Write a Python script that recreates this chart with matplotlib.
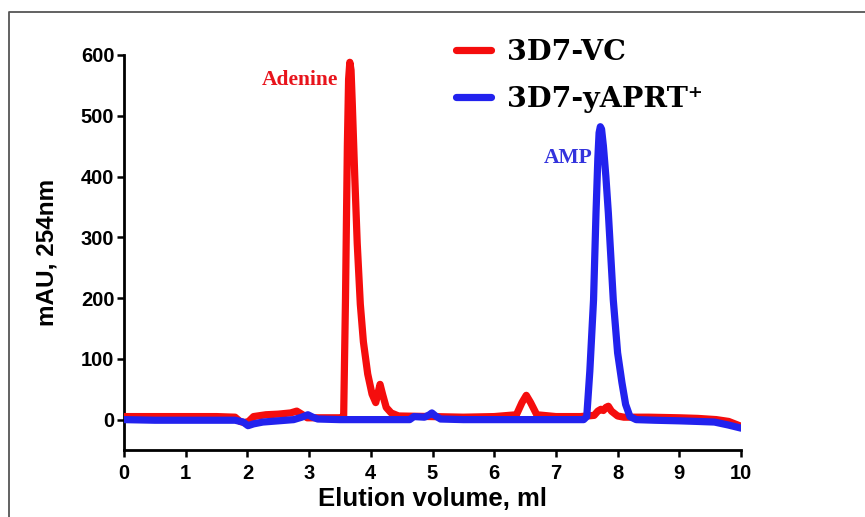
import matplotlib
matplotlib.use("Agg")
import matplotlib.pyplot as plt
from matplotlib.lines import Line2D

# ---- data ----
vc_x = [0.0, 0.5, 1.0, 1.5, 1.8, 1.88, 1.95, 2.02, 2.1, 2.3, 2.5, 2.7, 2.8, 2.88, 2.97, 3.2, 3.5,
        3.56, 3.59, 3.62, 3.64, 3.66, 3.68, 3.70, 3.74, 3.78, 3.83, 3.88, 3.95, 4.02, 4.08, 4.12, 4.15,
        4.19, 4.25, 4.33, 4.45, 5.0, 5.5, 6.0, 6.36, 6.45, 6.52, 6.59, 6.69, 7.0, 7.4, 7.62, 7.68,
        7.73, 7.77, 7.81, 7.85, 7.9, 8.0, 8.1, 8.5, 9.0, 9.3, 9.6, 9.8, 10.0]
vc_y = [5, 5, 5, 5, 4, -3, -5, -3, 5, 8, 9, 11, 14, 9, 3, 3, 3,
        5, 200, 450, 560, 588, 575, 520, 400, 290, 190, 128, 75, 42, 28, 45, 58,
        42, 20, 11, 6, 5, 4, 5, 8, 28, 40, 28, 8, 5, 5, 7, 14,
        17, 15, 20, 22, 14, 6, 4, 4, 3, 2, 0, -3, -11]

yaprt_x = [0.0, 0.5, 1.0, 1.5, 1.8, 1.93, 2.01, 2.1, 2.25, 2.5, 2.75, 2.88, 2.98, 3.06, 3.14,
           3.5, 4.0, 4.4, 4.63, 4.7, 4.87, 4.95, 4.99, 5.05, 5.13, 5.5, 6.0, 6.5, 7.0, 7.45,
           7.50, 7.55, 7.61, 7.65, 7.68, 7.70, 7.72, 7.74, 7.77, 7.81, 7.85, 7.93, 8.0, 8.07,
           8.13, 8.2, 8.3, 8.6, 9.0, 9.3, 9.57, 9.8, 10.0]
yaprt_y = [0, -1, -1, -1, -1, -4, -10, -7, -4, -2, 0, 4, 8, 4, 1,
           0, 0, 0, 0, 5, 4, 8, 11, 6, 1, 0, 0, 0, 0, 0,
           5, 80, 197, 340, 430, 472, 482, 478, 450, 400, 340, 197, 110, 61,
           25, 5, 0, -1, -2, -3, -4, -9, -14]

x_ticks = list(range(0, 11))
y_ticks = [0, 100, 200, 300, 400, 500, 600]
series_labels = ["3D7-VC", "3D7-yAPRT\u207A"]
peak_labels = ["Adenine", "AMP"]

RED = "#f50d0d"
BLUE = "#2222ee"

fig = plt.figure(figsize=(8.65, 5.17), dpi=100)
fig.patch.set_facecolor("white")
ax = fig.add_axes([124/865, 1-450/517, (741-124)/865, (450-55)/517])

l1, = ax.plot(vc_x, vc_y, color=RED, lw=5.2, solid_joinstyle="round", solid_capstyle="round", zorder=3)
l2, = ax.plot(yaprt_x, yaprt_y, color=BLUE, lw=5.2, solid_joinstyle="round", solid_capstyle="round", zorder=4)

ax.set_xlim(0, 10)
ax.set_ylim(-50, 600)
ax.set_xticks(x_ticks)
ax.set_yticks(y_ticks)

for s in ["top", "right"]:
    ax.spines[s].set_visible(False)
for s in ["left", "bottom"]:
    ax.spines[s].set_linewidth(2.0)

ax.tick_params(direction="out", length=5, width=1.8, pad=5)
for lab in ax.get_xticklabels() + ax.get_yticklabels():
    lab.set_fontfamily("Liberation Sans")
    lab.set_fontweight("bold")
    lab.set_fontsize(14.5)
ax.tick_params(axis="y", pad=2)

ax.set_xlabel("Elution volume, ml", fontfamily="Liberation Sans", fontweight="bold", fontsize=18.5, labelpad=3)
ax.set_ylabel("mAU, 254nm", fontfamily="Liberation Sans", fontweight="bold", fontsize=17.5, labelpad=16)

ax.text(2.85, 559, peak_labels[0], color="#e8141c", fontfamily="Liberation Serif", fontweight="bold",
        fontsize=15.5, ha="center", va="center")
ax.text(7.2, 431, peak_labels[1], color="#3333dd", fontfamily="Liberation Serif", fontweight="bold",
        fontsize=15.5, ha="center", va="center")

leg = fig.legend([l1, l2], series_labels, loc="upper left", bbox_to_anchor=(430/865, 1-13/517),
                 frameon=False, handlelength=1.25, handletextpad=0.55, labelspacing=0.72,
                 prop={"family": "DejaVu Serif", "weight": "bold", "size": 20.5})

# outer frame (top and left edges)
fig.add_artist(Line2D([9/865, 9/865, 1.0], [0.0, 1-12/517, 1-12/517], transform=fig.transFigure,
                      color="#555555", lw=1.3))

fig.savefig("out.png", dpi=100, facecolor="white")
